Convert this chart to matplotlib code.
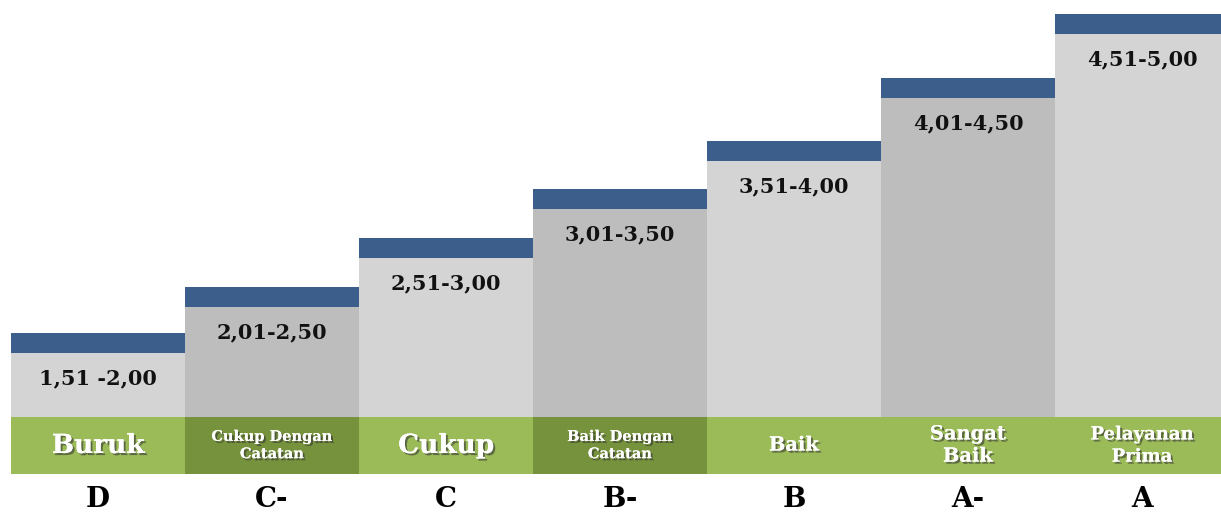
import matplotlib.pyplot as plt
import matplotlib.patheffects as pe

# data: score range per grade (bar heights read as steps above the green band)
ranges = ['1,51 -2,00', '2,01-2,50', '2,51-3,00', '3,01-3,50', '3,51-4,00', '4,01-4,50', '4,51-5,00']
heights = [64, 110, 159, 208, 256, 319, 383]
predikat = ['Buruk', 'Cukup Dengan\nCatatan', 'Cukup', 'Baik Dengan\nCatatan', 'Baik', 'Sangat\nBaik', 'Pelayanan\nPrima']
predikat_size = [19, 10.5, 19, 10.5, 14, 14, 13]
grades = ['D', 'C-', 'C', 'B-', 'B', 'A-', 'A']

gray_light = '#d4d4d4'
gray_dark = '#bdbdbd'
green_light = '#9bbb59'
green_dark = '#76923c'
blue = '#3b5f8a'

band_bottom = 41
band_h = 57
cap_h = 20
base = band_bottom + band_h

fig = plt.figure(figsize=(12.21, 5.15), dpi=100)
ax = fig.add_axes([0, 0, 1, 1])
ax.set_xlim(-0.5 - 11 / 174, -0.5 + 1210 / 174)
ax.set_ylim(0, 515)
ax.axis('off')

serif = 'DejaVu Serif'
n = len(heights)
x = list(range(n))
gcols = [gray_light if i % 2 == 0 else gray_dark for i in x]
bcols = [green_dark if i in (1, 3) else green_light for i in x]

ax.bar(x, heights, width=1.0, bottom=base, color=gcols, linewidth=0)
ax.bar(x, [cap_h] * n, width=1.0, bottom=[base + h for h in heights], color=blue, linewidth=0)
ax.bar(x, [band_h] * n, width=1.0, bottom=band_bottom, color=bcols, linewidth=0)

shadow = [pe.withSimplePatchShadow(offset=(1.5, -1.5), shadow_rgbFace='#333333', alpha=0.6), pe.Normal()]

for i in x:
    ax.text(i, base + heights[i] - 25, ranges[i], ha='center', va='center',
            fontsize=15, fontweight='bold', family=serif, color='#111111')
    ax.text(i, band_bottom + band_h / 2, predikat[i], ha='center', va='center',
            fontsize=predikat_size[i], fontweight='bold', family=serif, color='white',
            linespacing=1.3, path_effects=shadow)
    ax.text(i, 29, grades[i], ha='center', va='top',
            fontsize=20, fontweight='bold', family=serif, color='black')

fig.savefig('out.png', dpi=100)
